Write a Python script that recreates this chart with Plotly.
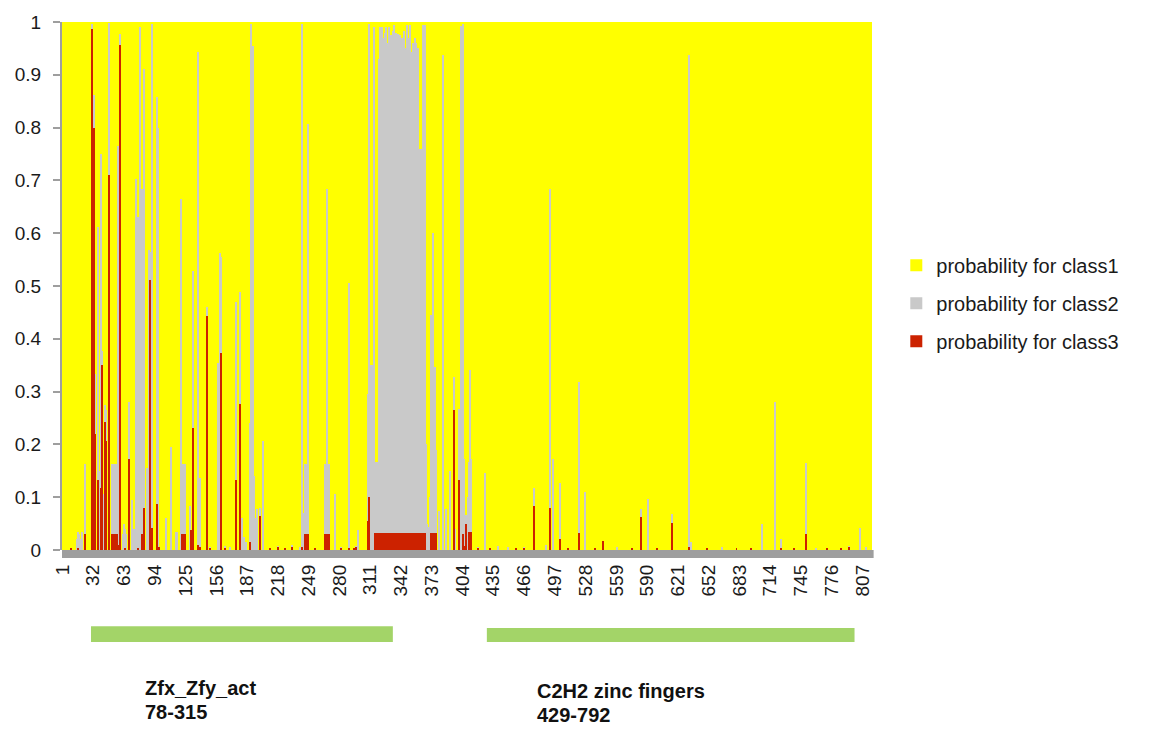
import plotly.graph_objects as go

# ---------------- data ----------------
N_POSITIONS = 816
positions = list(range(1, N_POSITIONS + 1))

# sparse readings: residue position, top of grey band (class2+class3), red band (class3)
read_pos = [10, 16, 17, 18, 19, 21, 24, 31, 33, 34, 37, 38, 40, 41, 42, 44, 45, 48,
            51, 52, 53, 54, 55, 56, 57, 59, 62, 63, 64, 65, 68, 71, 73, 75, 76, 77,
            79, 80, 81, 83, 86, 88, 89, 91, 96, 97, 98, 105, 110, 115, 116, 120,
            121, 122, 123, 124, 129, 130, 132, 138, 140, 147, 150, 158, 160, 161,
            165, 170, 176, 180, 182, 184, 186, 190, 191, 192, 193, 194, 195, 197,
            200, 203, 210, 218, 225, 232, 240, 242, 243, 245, 246, 247, 248, 255,
            265, 266, 267, 268, 269, 276, 282, 290, 295, 297, 299, 309, 310,
            312, 313, 314, 315, 316, 317, 318, 319,
            320, 321, 322, 323, 324, 325, 326, 327, 328, 329, 330, 331, 332, 333,
            334, 335, 336, 337, 338, 339, 340, 341, 342, 343, 344, 345, 346, 347,
            348, 349, 350, 351, 352, 353, 354, 355, 356, 357, 358, 359, 360, 361,
            362, 363, 364, 365, 366, 367, 368, 369, 370, 371, 372, 373, 374, 375,
            376, 377, 380, 384, 387, 391, 395, 396, 400, 402, 404, 405, 407, 409,
            411, 412, 413, 420, 427, 432, 440, 450, 458, 466, 476, 488, 492, 495,
            502, 510, 521, 527, 537, 546, 560, 575, 584, 591, 600, 615, 632, 634,
            650, 665, 680, 695, 706, 719, 725, 738, 750, 760, 771, 785, 793, 804, 810]

read_top = [.004, .02, .035, .03, .02, .035, .163, .997, .862, .334, .611, .15, .75, .377, .107, .275, .265, .999,
            .163, .163, .163, .163, .163, .163, .766, .977, .03, .05, .04, .03, .281, .094, .04, .703, .41, .63,
            .99, .37, .684, .911, .156, .568, .565, .997, .858, .80, .006, .06, .196, .034, .034, .664,
            .163, .163, .163, .163, .084, .038, .529, .944, .136, .461, .005, .354, .563, .555,
            .006, .005, .469, .488, .06, .025, .015, .24, .997, .30, .954, .14, .06, .077,
            .08, .206, .004, .006, .004, .008, .005, .997, .07, .163, .163, .163, .807, .004,
            .163, .163, .684, .163, .163, .107, .004, .506, .004, .006, .037, .295, .997,
            .35, .35, .35, .99, .166, .166, .166, .166,
            .93, .99, .23, .99, .93, .97, .98, .99, .96, .865, .99, .955, .975, .746,
            .983, .995, .96, .98, .124, .977, .927, .975, .562, .97, .90, .983, .95, .95,
            .995, .97, .97, .995, .944, .91, .96, .075, .97, .96, .92, .95, .075, .76,
            .76, .59, .995, .89, .995, .20, .05, .044, .044, .10, .446, .163, .60, .163,
            .347, .19, .074, .937, .077, .15, .328, .04, .268, .993, .997, .173, .067, .10,
            .166, .34, .173, .005, .146, .004, .008, .006, .004, .005, .117, .01, .684, .173,
            .127, .004, .318, .11, .004, .018, .006, .004, .078, .097, .004, .069, .937, .015,
            .004, .005, .004, .004, .049, .281, .02, .004, .164, .004, .004, .004, .006, .042, .006]

read_red = [.004, 0, .004, 0, 0, 0, .031, .987, .80, .219, .133, 0, .117, .351, 0, .242, .206, .71,
            .031, .031, .031, .031, .031, .031, .01, .957, 0, 0, .003, 0, .173, 0, 0, 0, 0, .003,
            0, 0, .031, .08, 0, 0, .512, .041, .087, 0, .006, 0, 0, 0, 0, 0,
            .031, .031, .031, .031, 0, .038, .232, .01, .006, .443, .004, 0, 0, .374,
            .004, 0, .133, .277, 0, 0, 0, .015, 0, 0, 0, 0, 0, 0,
            .064, 0, .004, .005, .004, .006, 0, .005, 0, .031, .031, .031, .031, .004,
            .031, .031, .031, .031, .031, 0, .003, .004, .004, .005, 0, .054, .10,
            0, 0, 0, 0, .033, .033, .033, .033,
            .033, .033, .033, .033, .033, .033, .033, .033, .033, .033, .033, .033, .033, .033,
            .033, .033, .033, .033, .033, .033, .033, .033, .033, .033, .033, .033, .033, .033,
            .033, .033, .033, .033, .033, .033, .033, .033, .033, .033, .033, .033, .033, .033,
            .033, .033, .033, .033, .033, 0, 0, 0, 0, 0, .033, .033, .033, .033,
            .033, .033, 0, 0, 0, 0, .265, 0, .133, 0, .031, .008, .05, 0,
            .034, .034, .034, .003, 0, .004, 0, 0, .004, .003, .084, 0, .08, 0,
            .02, .004, .032, 0, .004, .018, 0, .004, .062, 0, .004, .052, .005, 0,
            .004, 0, .004, .004, 0, 0, .003, .004, .031, 0, .004, .004, .005, 0, 0]

x_tick_labels = [str(v) for v in range(1, 808, 31)]
y_tick_values = [0, 0.1, 0.2, 0.3, 0.4, 0.5, 0.6, 0.7, 0.8, 0.9, 1.0]
y_tick_labels = ["0", "0.1", "0.2", "0.3", "0.4", "0.5", "0.6", "0.7", "0.8", "0.9", "1"]

# domain bars (start / end, in residue-axis units as drawn) and their labels
domain_names = ["Zfx_Zfy_act", "C2H2 zinc fingers"]
domain_ranges = ["78-315", "429-792"]
domain_bar_start = [29.7, 428.5]
domain_bar_end = [333.8, 798.9]
domain_label_x = [82, 477]

# ---------------- build series ----------------
class3 = [0.0] * N_POSITIONS
class2 = [0.0] * N_POSITIONS
for p, top, red in zip(read_pos, read_top, read_red):
    class3[p - 1] = red
    class2[p - 1] = max(top - red, 0.0)
class1 = [max(1.0 - a - b, 0.0) for a, b in zip(class2, class3)]

# stacked 100% layout: class3 at bottom, class2 on it, class1 on top
base2 = class3
base1 = [a + b for a, b in zip(class2, class3)]

YELLOW = "#FFFF00"
GREY = "#C9C9C9"
RED = "#CC2200"

fig = go.Figure()
# draw class1 first so the narrow grey / red spikes stay on top
fig.add_trace(go.Bar(x=positions, y=class1, base=base1, name="probability for class1",
                     legendgroup="c1", marker=dict(color=YELLOW, line=dict(width=0))))
fig.add_trace(go.Bar(x=positions, y=class2, base=base2, name="probability for class2",
                     legendgroup="c2", marker=dict(color=GREY, line=dict(width=0))))
fig.add_trace(go.Bar(x=positions, y=class3, name="probability for class3",
                     legendgroup="c3", marker=dict(color=RED, line=dict(width=0))))

PLOT_H = 534.0
shapes = [
    # grey floor band under the x axis
    dict(type="rect", xref="paper", yref="paper", x0=0, x1=1.002,
         y0=-8 / PLOT_H, y1=0, fillcolor="#9E9E9E", line=dict(width=0), layer="above"),
]
annotations = []
for i in range(2):
    y_top = -77 / PLOT_H if i == 0 else -79 / PLOT_H
    shapes.append(dict(type="rect", xref="x", yref="paper",
                       x0=domain_bar_start[i], x1=domain_bar_end[i],
                       y0=-93 / PLOT_H, y1=y_top,
                       fillcolor="#A3D468", line=dict(width=0)))
    y1 = -140 / PLOT_H if i == 0 else -143 / PLOT_H
    y2 = -164 / PLOT_H if i == 0 else -167 / PLOT_H
    annotations.append(dict(x=domain_label_x[i], y=y1, xref="x", yref="paper",
                            text="<b>%s</b>" % domain_names[i], showarrow=False,
                            xanchor="left", yanchor="middle",
                            font=dict(size=20, color="#111111")))
    annotations.append(dict(x=domain_label_x[i], y=y2, xref="x", yref="paper",
                            text="<b>%s</b>" % domain_ranges[i], showarrow=False,
                            xanchor="left", yanchor="middle",
                            font=dict(size=20, color="#111111")))

fig.update_layout(
    barmode="overlay", bargap=0,
    width=1161, height=729,
    margin=dict(l=62, r=289, t=16, b=179),
    paper_bgcolor="white", plot_bgcolor=YELLOW,
    font=dict(family="Liberation Sans, Arial, sans-serif", size=19, color="#1a1a1a"),
    legend=dict(x=1.03, y=0.4675, xanchor="left", yanchor="middle",
                traceorder="grouped", tracegroupgap=9,
                font=dict(size=20), bgcolor="rgba(0,0,0,0)"),
    shapes=shapes, annotations=annotations,
)
fig.update_traces(opacity=1)
fig.update_xaxes(range=[0.5, N_POSITIONS + 0.5], tickmode="array",
                 tickvals=list(range(1, 808, 31)), ticktext=x_tick_labels,
                 tickangle=-90, ticks="", showgrid=False, zeroline=False,
                 showline=False, ticklabelstandoff=10)
fig.update_yaxes(range=[0, 1], tickmode="array", tickvals=y_tick_values,
                 ticktext=y_tick_labels, ticks="outside", ticklen=7, tickwidth=2,
                 tickcolor="#9E9E9E", showline=True, linecolor="#9E9E9E", linewidth=2,
                 showgrid=False, zeroline=False, ticklabelstandoff=8)

fig.write_html("out.html")
